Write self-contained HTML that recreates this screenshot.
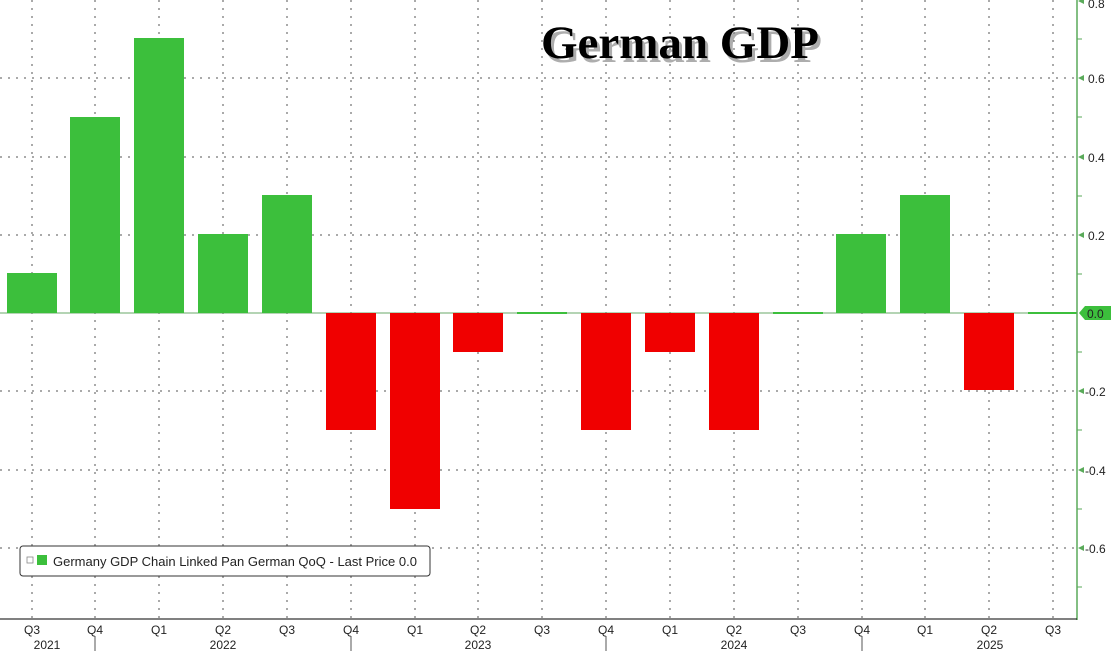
<!DOCTYPE html>
<html><head><meta charset="utf-8"><style>
html,body{margin:0;padding:0;background:#fff;}
svg{display:block;font-family:"Liberation Sans",sans-serif;}
</style></head><body>
<svg width="1111" height="651" viewBox="0 0 1111 651" xmlns="http://www.w3.org/2000/svg">
<rect width="1111" height="651" fill="#fff"/>
<g stroke="#555" stroke-width="1" stroke-dasharray="2,6">
<line x1="0" y1="78" x2="1077" y2="78"/>
<line x1="0" y1="157" x2="1077" y2="157"/>
<line x1="0" y1="235" x2="1077" y2="235"/>
<line x1="0" y1="391" x2="1077" y2="391"/>
<line x1="0" y1="470" x2="1077" y2="470"/>
<line x1="0" y1="548" x2="1077" y2="548"/>
<line x1="32" y1="0" x2="32" y2="618"/><line x1="95" y1="0" x2="95" y2="618"/><line x1="159" y1="0" x2="159" y2="618"/><line x1="223" y1="0" x2="223" y2="618"/><line x1="287" y1="0" x2="287" y2="618"/><line x1="351" y1="0" x2="351" y2="618"/><line x1="415" y1="0" x2="415" y2="618"/><line x1="478" y1="0" x2="478" y2="618"/><line x1="542" y1="0" x2="542" y2="618"/><line x1="606" y1="0" x2="606" y2="618"/><line x1="670" y1="0" x2="670" y2="618"/><line x1="734" y1="0" x2="734" y2="618"/><line x1="798" y1="0" x2="798" y2="618"/><line x1="862" y1="0" x2="862" y2="618"/><line x1="925" y1="0" x2="925" y2="618"/><line x1="989" y1="0" x2="989" y2="618"/><line x1="1053" y1="0" x2="1053" y2="618"/>
</g>
<line x1="0" y1="313" x2="1077" y2="313" stroke="#6aa86a" stroke-width="1"/>
<g fill="#3cbf3c">
<rect x="7" y="273" width="50" height="40"/>
<rect x="70" y="117" width="50" height="196"/>
<rect x="134" y="38" width="50" height="275"/>
<rect x="198" y="234" width="50" height="79"/>
<rect x="262" y="195" width="50" height="118"/>
<rect x="836" y="234" width="50" height="79"/>
<rect x="900" y="195" width="50" height="118"/>
<rect x="517" y="312" width="50" height="2"/>
<rect x="773" y="312" width="50" height="2"/>
<rect x="1028" y="312" width="49" height="2"/>
</g>
<g fill="#f00000">
<rect x="326" y="313" width="50" height="117"/>
<rect x="390" y="313" width="50" height="196"/>
<rect x="453" y="313" width="50" height="39"/>
<rect x="581" y="313" width="50" height="117"/>
<rect x="645" y="313" width="50" height="39"/>
<rect x="709" y="313" width="50" height="117"/>
<rect x="964" y="313" width="50" height="77"/>
</g>
<text x="680" y="58" text-anchor="middle" font-family="Liberation Serif,serif" font-weight="bold" font-size="47" fill="#777" opacity="0.6" transform="translate(3,4)">German GDP</text>
<text x="680" y="58" text-anchor="middle" font-family="Liberation Serif,serif" font-weight="bold" font-size="47" fill="#000">German GDP</text>
<line x1="1077" y1="0" x2="1077" y2="620" stroke="#5aaa5a" stroke-width="1.5"/>
<g stroke="#5aaa5a"><line x1="1077" y1="39" x2="1082" y2="39"/><line x1="1077" y1="117" x2="1082" y2="117"/><line x1="1077" y1="196" x2="1082" y2="196"/><line x1="1077" y1="274" x2="1082" y2="274"/><line x1="1077" y1="352" x2="1082" y2="352"/><line x1="1077" y1="430" x2="1082" y2="430"/><line x1="1077" y1="509" x2="1082" y2="509"/><line x1="1077" y1="587" x2="1082" y2="587"/></g>
<g fill="#5aaa5a"><path d="M1078 1 l6 -3 v6z"/><path d="M1078 78 l6 -3 v6z"/><path d="M1078 157 l6 -3 v6z"/><path d="M1078 235 l6 -3 v6z"/><path d="M1078 391 l6 -3 v6z"/><path d="M1078 470 l6 -3 v6z"/><path d="M1078 548 l6 -3 v6z"/></g>
<path d="M1079 313 l6 -7 h26 v14 h-26z" fill="#3cbf3c"/>
<g font-size="12" fill="#222">
<text x="1088" y="8">0.8</text>
<text x="1088" y="83">0.6</text>
<text x="1088" y="162">0.4</text>
<text x="1088" y="240">0.2</text>
<text x="1087" y="318">0.0</text>
<text x="1085" y="396">-0.2</text>
<text x="1085" y="475">-0.4</text>
<text x="1085" y="553">-0.6</text>
</g>
<rect x="20" y="546" width="410" height="30" rx="3" fill="#fff" stroke="#333"/>
<rect x="27" y="557" width="6" height="6" fill="#fff" stroke="#888" stroke-width="0.8"/>
<rect x="37" y="555" width="10" height="10" fill="#3cbf3c"/>
<text x="53" y="566" font-size="13" fill="#222">Germany GDP Chain Linked Pan German QoQ - Last Price 0.0</text>
<line x1="0" y1="619" x2="1077" y2="619" stroke="#000"/>
<g stroke="#555"><line x1="95" y1="636" x2="95" y2="651"/><line x1="351" y1="636" x2="351" y2="651"/><line x1="606" y1="636" x2="606" y2="651"/><line x1="862" y1="636" x2="862" y2="651"/></g>
<g font-size="12" fill="#222" text-anchor="middle">
<text x="32" y="634">Q3</text><text x="95" y="634">Q4</text><text x="159" y="634">Q1</text><text x="223" y="634">Q2</text><text x="287" y="634">Q3</text><text x="351" y="634">Q4</text><text x="415" y="634">Q1</text><text x="478" y="634">Q2</text><text x="542" y="634">Q3</text><text x="606" y="634">Q4</text><text x="670" y="634">Q1</text><text x="734" y="634">Q2</text><text x="798" y="634">Q3</text><text x="862" y="634">Q4</text><text x="925" y="634">Q1</text><text x="989" y="634">Q2</text><text x="1053" y="634">Q3</text>
<text x="47" y="649">2021</text><text x="223" y="649">2022</text><text x="478" y="649">2023</text><text x="734" y="649">2024</text><text x="990" y="649">2025</text>
</g>
</svg>
</body></html>
